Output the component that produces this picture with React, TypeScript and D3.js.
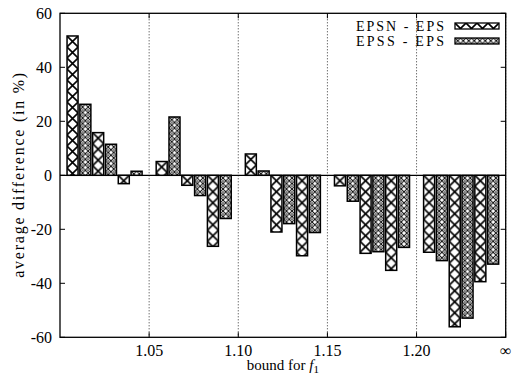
import React from 'react'
import * as d3 from 'd3'

// bound intervals (x axis) and the three sub-cases drawn in each
const bounds = ['1.05', '1.10', '1.15', '1.20', '∞']
const boundValues = [1.05, 1.1, 1.15, 1.2, 1.25]
const yTicks = [-60, -40, -20, 0, 20, 40, 60]
const seriesNames = ['EPSN - EPS', 'EPSS - EPS']

// average difference (in %), three sub-cases per bound
const epsn = [51.6, 15.8, -3.1, 5.1, -3.7, -26.3, 7.9, -21.0, -29.8, -3.9, -28.9, -35.2, -28.5, -56.1, -39.4]
const epss = [26.3, 11.5, 1.5, 21.6, -7.5, -16.0, 1.6, -17.9, -21.2, -9.6, -28.3, -26.7, -31.6, -52.9, -32.9]

const W = 515
const H = 382
const m = { l: 60, r: 505.7, t: 13.3, b: 337.3 }
const font = '"Liberation Serif", "DejaVu Serif", serif'

export default function App() {
  const x = d3.scaleLinear().domain([1.0, 1.25]).range([m.l, m.r])
  const y = d3.scaleLinear().domain([-60, 60]).range([m.b, m.t])
  const inner = d3.scaleBand<number>().domain([0, 1, 2, 3, 4, 5]).paddingInner(0.14).paddingOuter(0.55)

  const bars: { x: number; w: number; v: number; s: number; key: string }[] = []
  ;[epsn, epss].forEach((vals, s) => {
    vals.forEach((v, i) => {
      const k = Math.floor(i / 3)
      const lo = k === 0 ? 1.0 : boundValues[k - 1]
      const band = inner.copy().range([x(lo), x(boundValues[k])])
      bars.push({ x: band((i % 3) * 2 + s)!, w: band.bandwidth(), v, s, key: `${s}-${i}` })
    })
  })

  const y0 = y(0)
  const fills = ['url(#pN)', 'url(#pS)']

  return (
    <div style={{ position: 'absolute', left: 0, top: 0 }}>
      <svg width={W} height={H} style={{ display: 'block', background: '#fff' }} fontFamily={font}>
        <defs>
          <pattern id="pN" patternUnits="userSpaceOnUse" width={11} height={11}>
            <rect width={11} height={11} fill="#fff" />
            <path d="M0,0L11,11M11,0L0,11" stroke="#000" strokeWidth={1.6} />
          </pattern>
          <pattern id="pS" patternUnits="userSpaceOnUse" width={5.5} height={5.5}>
            <rect width={5.5} height={5.5} fill="#fff" />
            <path d="M0,0L5.5,5.5M5.5,0L0,5.5" stroke="#000" strokeWidth={0.95} />
            <circle cx={2.75} cy={0} r={0.8} fill="#000" />
            <circle cx={2.75} cy={5.5} r={0.8} fill="#000" />
          </pattern>
        </defs>

        {/* dotted grid */}
        {boundValues.map(b => (
          <line key={b} x1={x(b)} x2={x(b)} y1={m.t} y2={m.b} stroke="#000" strokeWidth={0.8} strokeDasharray="1,2" />
        ))}
        <line x1={m.l} x2={m.r} y1={y0} y2={y0} stroke="#000" strokeWidth={1.2} />

        {bars.map(b => {
          const top = Math.min(y(b.v), y0)
          const h = Math.abs(y(b.v) - y0)
          return (
            <g key={b.key} transform={`translate(${b.x},${top})`}>
              <rect width={b.w} height={h} fill={fills[b.s]} stroke="#000" strokeWidth={1.5} />
            </g>
          )
        })}

        {/* frame and ticks */}
        <rect x={m.l} y={m.t} width={m.r - m.l} height={m.b - m.t} fill="none" stroke="#000" strokeWidth={1.3} />
        {yTicks.map(t => (
          <g key={t}>
            <line x1={m.l} x2={m.l + 5} y1={y(t)} y2={y(t)} stroke="#000" />
            <line x1={m.r} x2={m.r - 5} y1={y(t)} y2={y(t)} stroke="#000" />
            <text x={m.l - 8} y={y(t)} dy="0.35em" textAnchor="end" fontSize={16}>{t}</text>
          </g>
        ))}
        {boundValues.map((b, i) => (
          <g key={b}>
            <line x1={x(b)} x2={x(b)} y1={m.b} y2={m.b - 5} stroke="#000" />
            <line x1={x(b)} x2={x(b)} y1={m.t} y2={m.t + 5} stroke="#000" />
            <text x={x(b)} y={356} textAnchor="middle" fontSize={16}>{bounds[i]}</text>
          </g>
        ))}

        {/* axis labels */}
        <text x={(m.l + m.r) / 2} y={370} textAnchor="middle" fontSize={15}>
          bound for <tspan fontStyle="italic">f</tspan><tspan fontSize={11} dy={3}>1</tspan>
        </text>
        <text transform={`translate(24,${(m.t + m.b) / 2}) rotate(-90)`} textAnchor="middle" fontSize={16}
          textLength={205} lengthAdjust="spacing">
          average difference (in %)
        </text>

        {/* legend */}
        {seriesNames.map((n, i) => (
          <g key={n} transform={`translate(0,${i * 15})`}>
            <text x={444} y={31} textAnchor="end" fontSize={14} textLength={88} lengthAdjust="spacing">{n}</text>
            <g transform="translate(455,23)">
              <rect width={44} height={6} fill={fills[i]} stroke="#000" strokeWidth={1.3} />
            </g>
          </g>
        ))}
      </svg>
    </div>
  )
}
